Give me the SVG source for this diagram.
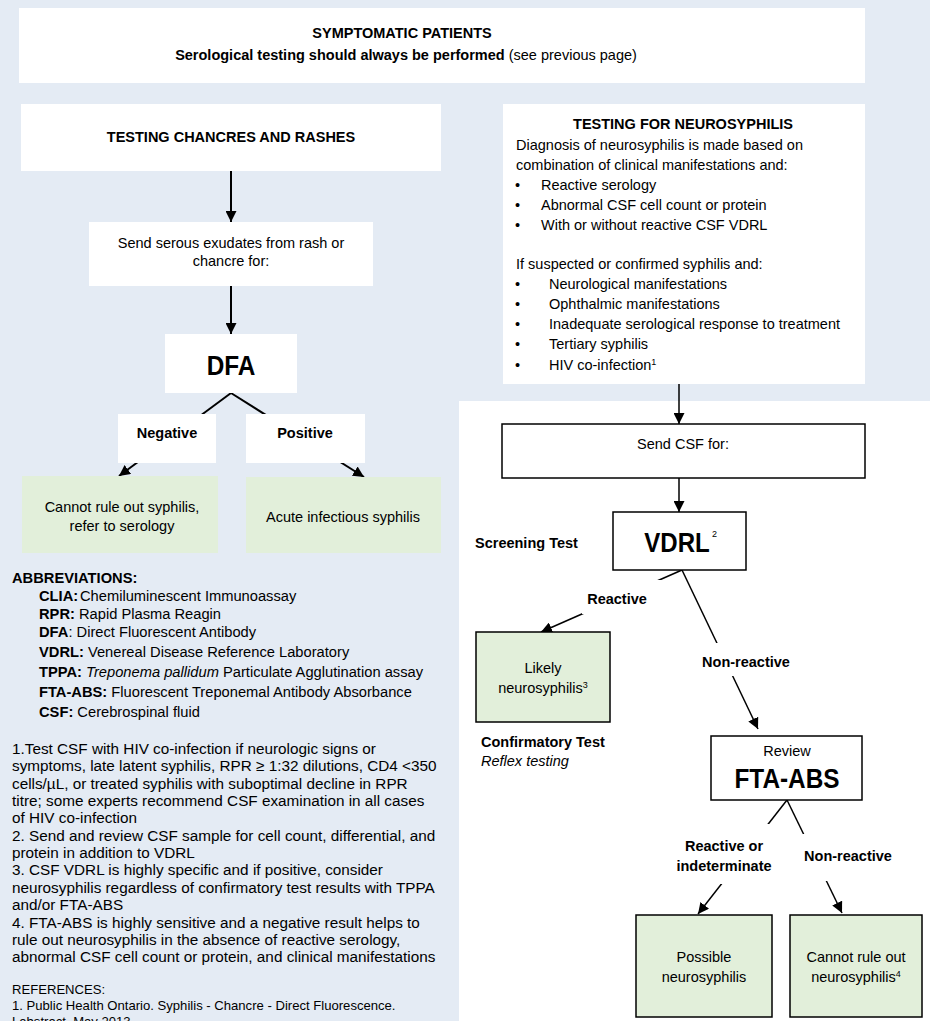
<svg xmlns="http://www.w3.org/2000/svg" width="930" height="1021" viewBox="0 0 930 1021">
<style>
text{font-family:"Liberation Sans",Arial,sans-serif;fill:#000;font-size:14.5px}
.b{font-weight:bold}
.i{font-style:italic}
.m{text-anchor:middle}
.ab{font-size:14.7px}
.fn{font-size:15.3px}
.ref{font-size:13.1px}
.big{font-size:28px;font-weight:bold}
.sup{font-size:9px}
.box{fill:#fff}
.obox{fill:#fff;stroke:#000;stroke-width:1.5}
.gbox{fill:#e2efda}
.gobox{fill:#e2efda;stroke:#000;stroke-width:1.5}
.lbl{fill:#fff}
.c{stroke:#000;stroke-width:2;fill:none}
.c2{stroke:#000;stroke-width:1.5;fill:none}
</style>
<defs>
<marker id="ah" markerUnits="userSpaceOnUse" markerWidth="11" markerHeight="11" viewBox="0 0 11 11" refX="11" refY="5.5" orient="auto"><path d="M0,0 L11,5.5 L0,11 z" fill="#000"/></marker>
</defs>
<rect width="930" height="1021" fill="#e4ebf4"/>
<rect x="459" y="401" width="471" height="620" fill="#fff"/>

<g id="connectors">
<path class="c" d="M231,171 V222" marker-end="url(#ah)"/>
<path class="c" d="M231,286 V334" marker-end="url(#ah)"/>
<path class="c" d="M231,393 L119,476" marker-end="url(#ah)"/>
<path class="c" d="M231,393 L364,477" marker-end="url(#ah)"/>
<path class="c2" d="M679,384 V424" marker-end="url(#ah)"/>
<path class="c2" d="M679,478 V512" marker-end="url(#ah)"/>
<path class="c2" d="M682,570 L541,632" marker-end="url(#ah)"/>
<path class="c2" d="M682,570 L758,729" marker-end="url(#ah)"/>
<path class="c2" d="M787,800 L698,914" marker-end="url(#ah)"/>
<path class="c2" d="M787,800 L842,913" marker-end="url(#ah)"/>
</g>

<g id="header">
<rect class="box" x="19" y="8" width="846" height="75"/>
<text class="b m" x="402" y="38">SYMPTOMATIC PATIENTS</text>
<text class="m" x="406" y="60"><tspan class="b">Serological testing should always be performed</tspan> (see previous page)</text>
</g>

<g id="chancres">
<rect class="box" x="21" y="104" width="420" height="67"/>
<text class="b m" x="231" y="142">TESTING CHANCRES AND RASHES</text>
</g>

<g id="exudates">
<rect class="box" x="89" y="222" width="284" height="64"/>
<text class="m" x="231" y="248">Send serous exudates from rash or</text>
<text class="m" x="231" y="266">chancre for:</text>
</g>

<g id="dfa">
<rect class="box" x="165" y="334" width="132" height="59"/>
<text class="big m" transform="translate(231 375) scale(0.87 1)">DFA</text>
</g>

<g id="negative-label">
<rect class="box" x="118" y="414" width="98" height="49"/>
<text class="b m" x="167" y="438">Negative</text>
</g>

<g id="positive-label">
<rect class="box" x="246" y="414" width="119" height="49"/>
<text class="b m" x="305" y="438">Positive</text>
</g>

<g id="cannot-rule-out-syphilis">
<rect class="gbox" x="22" y="476" width="196" height="77"/>
<text class="m" x="122" y="512">Cannot rule out syphilis,</text>
<text class="m" x="122" y="531">refer to serology</text>
</g>

<g id="acute-syphilis">
<rect class="gbox" x="246" y="477" width="195" height="76"/>
<text class="m" x="343" y="522">Acute infectious syphilis</text>
</g>

<g id="abbreviations">
<text class="b ab" x="12" y="583">ABBREVIATIONS:</text>
<text class="ab" x="39" y="601"><tspan class="b">CLIA:</tspan><tspan x="80">Chemiluminescent Immunoassay</tspan></text>
<text class="ab" x="39" y="619"><tspan class="b">RPR:</tspan> Rapid Plasma Reagin</text>
<text class="ab" x="39" y="637"><tspan class="b">DFA</tspan>: Direct Fluorescent Antibody</text>
<text class="ab" x="39" y="657"><tspan class="b">VDRL:</tspan> Venereal Disease Reference Laboratory</text>
<text class="ab" x="39" y="677"><tspan class="b">TPPA:</tspan> <tspan class="i">Treponema pallidum</tspan> Particulate Agglutination assay</text>
<text class="ab" x="39" y="697"><tspan class="b">FTA-ABS:</tspan> Fluorescent Treponemal Antibody Absorbance</text>
<text class="ab" x="39" y="717"><tspan class="b">CSF:</tspan> Cerebrospinal fluid</text>
</g>

<g id="footnotes">
<text class="fn" x="12" y="754">1.Test CSF with HIV co-infection if neurologic signs or</text>
<text class="fn" x="12" y="771.4">symptoms, late latent syphilis, RPR ≥ 1:32 dilutions, CD4 &lt;350</text>
<text class="fn" x="12" y="788.7">cells/µL, or treated syphilis with suboptimal decline in RPR</text>
<text class="fn" x="12" y="806">titre; some experts recommend CSF examination in all cases</text>
<text class="fn" x="12" y="823.4">of HIV co-infection</text>
<text class="fn" x="12" y="840.8">2. Send and review CSF sample for cell count, differential, and</text>
<text class="fn" x="12" y="858.1">protein in addition to VDRL</text>
<text class="fn" x="12" y="875.4">3. CSF VDRL is highly specific and if positive, consider</text>
<text class="fn" x="12" y="892.8">neurosyphilis regardless of confirmatory test results with TPPA</text>
<text class="fn" x="12" y="910.2">and/or FTA-ABS</text>
<text class="fn" x="12" y="927.5">4. FTA-ABS is highly sensitive and a negative result helps to</text>
<text class="fn" x="12" y="944.9">rule out neurosyphilis in the absence of reactive serology,</text>
<text class="fn" x="12" y="962.2">abnormal CSF cell count or protein, and clinical manifestations</text>
</g>

<g id="references">
<text class="ref" x="12" y="993.5">REFERENCES:</text>
<text class="ref" x="12" y="1009.5">1. Public Health Ontario. Syphilis - Chancre - Direct Fluorescence.</text>
<text class="ref" x="12" y="1025.5">Labstract, May 2013.</text>
</g>

<g id="neurosyphilis-criteria">
<rect class="box" x="503" y="104" width="362" height="280"/>
<text class="b m" x="683" y="129">TESTING FOR NEUROSYPHILIS</text>
<text x="516" y="150">Diagnosis of neurosyphilis is made based on</text>
<text x="516" y="170">combination of clinical manifestations and:</text>
<text x="515" y="190">•</text><text x="541" y="190">Reactive serology</text>
<text x="515" y="210">•</text><text x="541" y="210">Abnormal CSF cell count or protein</text>
<text x="515" y="230">•</text><text x="541" y="230">With or without reactive CSF VDRL</text>
<text x="516" y="269">If suspected or confirmed syphilis and:</text>
<text x="515" y="289">•</text><text x="549" y="289">Neurological manifestations</text>
<text x="515" y="309">•</text><text x="549" y="309">Ophthalmic manifestations</text>
<text x="515" y="329">•</text><text x="549" y="329">Inadequate serological response to treatment</text>
<text x="515" y="349">•</text><text x="549" y="349">Tertiary syphilis</text>
<text x="515" y="370">•</text><text x="549" y="370">HIV co-infection<tspan class="sup" dy="-5">1</tspan></text>
</g>

<g id="send-csf">
<rect class="obox" x="502" y="424" width="363" height="54"/>
<text class="m" x="683" y="449">Send CSF for:</text>
</g>

<g id="vdrl">
<rect class="obox" x="613" y="512" width="133" height="58"/>
<text class="big m" transform="translate(677 552) scale(0.86 1)">VDRL</text>
<text class="sup" x="712" y="537">2</text>
</g>

<g id="screening-test">
<text class="b" x="475" y="548">Screening Test</text>
</g>

<g id="reactive-label">
<rect class="lbl" x="582" y="580" width="80" height="34"/>
<text class="b m" x="617" y="604">Reactive</text>
</g>

<g id="likely-neurosyphilis">
<rect class="gobox" x="476" y="632" width="134" height="90"/>
<text class="m" x="543" y="673">Likely</text>
<text class="m" x="543" y="693">neurosyphilis<tspan class="sup" dy="-5">3</tspan></text>
</g>

<g id="confirmatory-test">
<text class="b" x="481" y="747">Confirmatory Test</text>
<text class="i" x="481" y="766">Reflex testing</text>
</g>

<g id="non-reactive-label-1">
<rect class="lbl" x="700" y="643" width="95" height="33"/>
<text class="b m" x="746" y="667">Non-reactive</text>
</g>

<g id="fta-abs">
<rect class="obox" x="711" y="736" width="151" height="64"/>
<text class="m" x="787" y="756">Review</text>
<text class="big m" transform="translate(787 788) scale(0.87 1)">FTA-ABS</text>
</g>

<g id="reactive-indeterminate-label">
<rect class="lbl" x="675" y="824" width="97" height="60"/>
<text class="b m" x="724" y="851">Reactive or</text>
<text class="b m" x="724" y="871">indeterminate</text>
</g>

<g id="non-reactive-label-2">
<rect class="lbl" x="800" y="834" width="96" height="47"/>
<text class="b m" x="848" y="861">Non-reactive</text>
</g>

<g id="possible-neurosyphilis">
<rect class="gobox" x="636" y="915" width="136" height="102"/>
<text class="m" x="704" y="962">Possible</text>
<text class="m" x="704" y="982">neurosyphilis</text>
</g>

<g id="cannot-rule-out-neurosyphilis">
<rect class="gobox" x="790" y="915" width="132" height="102"/>
<text class="m" x="856" y="962">Cannot rule out</text>
<text class="m" x="856" y="982">neurosyphilis<tspan class="sup" dy="-5">4</tspan></text>
</g>
</svg>
